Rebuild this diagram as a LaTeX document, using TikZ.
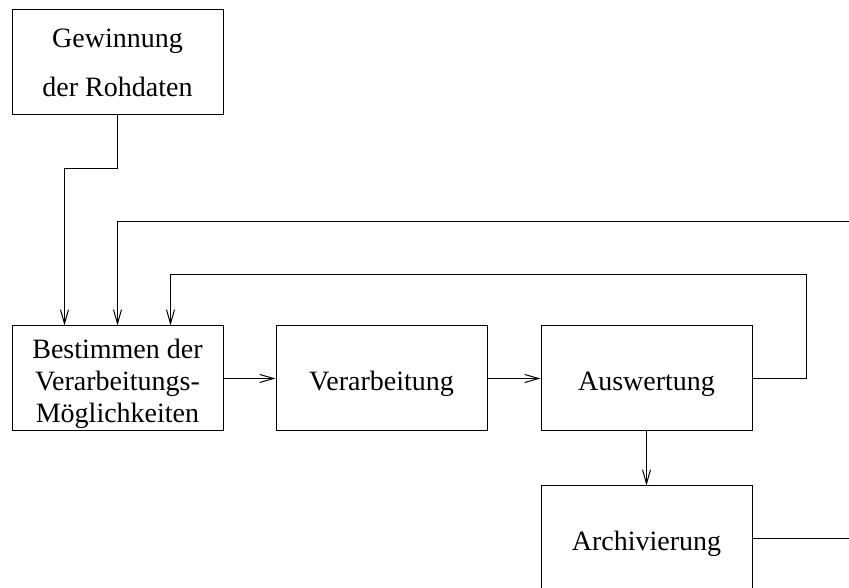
\documentclass[tikz,border=0pt]{standalone}
\usepackage{fontspec}
\setmainfont{Liberation Serif}
\usetikzlibrary{positioning,arrows.meta}
\newcommand{\oben}{\rule{0pt}{31pt}}

\begin{document}
\begin{tikzpicture}[x=1pt,y=1pt,
	stufe/.style={draw,line width=1pt,minimum width=211pt,minimum height=105pt,inner sep=0pt,align=center,font=\fontsize{28}{32}\selectfont},
	pfeil/.style={line width=1pt,-{Straight Barb[length=14pt,width=8pt,line width=1pt]}},
	linie/.style={line width=1pt}]
	%%%%% START %%%%%
	
	\useasboundingbox (0,0) rectangle (849,588);
	
	\node[stufe] (rohdaten) at (117.5,525.5) {Gewinnung\\[17pt]der Rohdaten};
	\node[stufe] (moegl) at (117.5,209.5) {\oben Bestimmen der\\Verarbeitungs-\\Möglichkeiten};
	\node[stufe,right=52pt of moegl] (verarb) {\oben Verarbeitung};
	\node[stufe,right=53pt of verarb] (ausw) {\oben Auswertung};
	\node[stufe,below=54pt of ausw] (archiv) {\oben Archivierung};
	
	\coordinate (rand1) at (849,366.7);
	
	\draw[pfeil] (rohdaten.south) -- ++(0,-53) -| ([xshift=-53pt]moegl.north);
	\draw[pfeil] (rand1) -| (moegl.north);
	\draw[pfeil] (ausw.east) -- ++(54,0) -- ++(0,104) -| ([xshift=53pt]moegl.north);
	
	\draw[pfeil] (moegl) -- (verarb);
	\draw[pfeil] (verarb) -- (ausw);
	\draw[pfeil] (ausw) -- (archiv);
	
	\draw[linie] (archiv.east) -- (archiv.east -| rand1);
	
	%%%%% END %%%%%
\end{tikzpicture}
\end{document}
